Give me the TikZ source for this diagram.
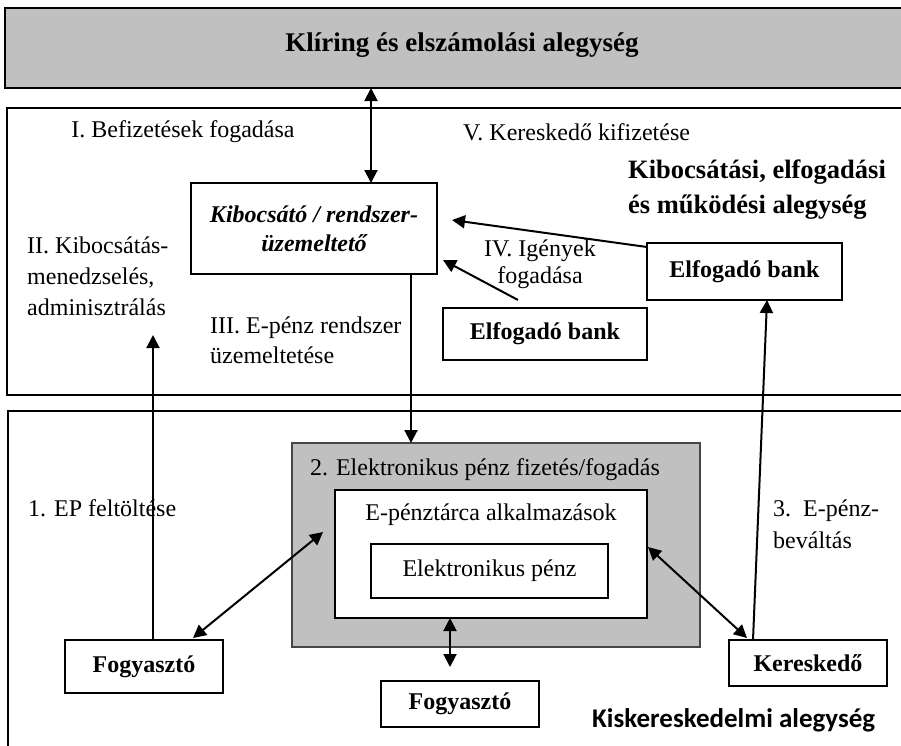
\documentclass[tikz,border=0pt]{standalone}
\usepackage{fontspec}
\setmainfont{Liberation Serif}
\newfontfamily\carl{Carlito}
\usetikzlibrary{arrows.meta,calc}
\definecolor{boxgray}{RGB}{192,192,192}
\definecolor{edgegray}{RGB}{70,70,70}
\begin{document}
\begin{tikzpicture}[x=1pt,y=-1pt,
  box/.style={draw, line width=1.6pt, inner sep=0pt, outer sep=0pt, anchor=north west, align=center},
  txt/.style={inner sep=0pt, font=\fontsize{24}{30}\selectfont},
  arr/.style={line width=2pt, -{Triangle[length=13pt,width=13pt]}},
  darr/.style={line width=2pt, {Triangle[length=13pt,width=13pt]}-{Triangle[length=13pt,width=13pt]}},
]
\useasboundingbox (0,0) rectangle (901,745);
\clip (0,0) rectangle (901,745);

% units
\node[box, fill=boxgray, minimum width=905pt, minimum height=80pt] (clr) at (5,8) {};
\node[inner sep=0pt, font=\fontsize{27}{30}\selectfont\bfseries] (clrt) at (462,45) {Klíring és elszámolási alegység};
\node[box, minimum width=905pt, minimum height=287pt] (mid) at (7,108) {};
\node[box, minimum width=905pt, minimum height=360pt] (ret) at (8,411) {};

% middle unit content
\node[box, minimum width=246pt, minimum height=91pt, font=\fontsize{24}{29}\selectfont\bfseries\itshape] (kib) at (191,183) {Kibocsátó / rendszer-\\üzemeltető};
\node[box, minimum width=195pt, minimum height=57pt, font=\fontsize{24}{30}\selectfont\bfseries] (bank2) at (647,243) {Elfogadó bank};
\node[box, minimum width=204pt, minimum height=52pt, font=\fontsize{24}{30}\selectfont\bfseries] (bank1) at (443,308) {Elfogadó bank};

\node[txt] (t1) at (183,132) {I. Befizetések fogadása};
\node[txt, anchor=west] (t5) at (463,132) {V. Kereskedő kifizetése};
\node[inner sep=0pt, anchor=west, align=left, font=\fontsize{26.5}{35}\selectfont\bfseries] (unit1) at (628,190) {Kibocsátási, elfogadási\\és működési alegység};
\node[txt, anchor=west, align=left, font=\fontsize{24}{31}\selectfont] (t2) at (27,276) {II. Kibocsátás-\\menedzselés,\\adminisztrálás};
\node[txt, anchor=west, align=left, font=\fontsize{24}{30}\selectfont] (t3) at (210,340) {III. E-pénz rendszer\\üzemeltetése};
\node[txt, align=center, font=\fontsize{24}{27}\selectfont] (t4) at (540,264) {IV. Igények\\fogadása};

% retail unit content
\node[box, fill=boxgray, draw=edgegray, minimum width=408pt, minimum height=204pt] (gray) at (292,443) {};
\node[txt] (grayt) at (485,470) {2. Elektronikus pénz fizetés/fogadás};
\node[box, fill=white, minimum width=312pt, minimum height=128pt] (wal) at (335,490) {};
\node[txt] (walt) at (491,515) {E-pénztárca alkalmazások};
\node[box, fill=white, minimum width=237pt, minimum height=54pt, font=\fontsize{24}{30}\selectfont] (ep) at (371,544) {Elektronikus pénz};

\node[box, minimum width=158pt, minimum height=53pt, font=\fontsize{24}{30}\selectfont\bfseries] (fogy1) at (65,640) {Fogyasztó};
\node[box, minimum width=158pt, minimum height=46pt, font=\fontsize{24}{30}\selectfont\bfseries] (fogy2) at (381,681) {Fogyasztó};
\node[box, minimum width=158pt, minimum height=46pt, font=\fontsize{24}{30}\selectfont\bfseries] (ker) at (729,640) {Kereskedő};

\node[txt, anchor=west] (s1) at (28,508) {1. EP feltöltése};
\node[txt, anchor=west, align=left, font=\fontsize{24}{32}\selectfont] (s3) at (773,524) {3.\ \ E-pénz-\\beváltás};
\node[inner sep=0pt, anchor=west, font=\fontsize{27}{30}\carl\bfseries] (unit2) at (592,720) {Kiskereskedelmi alegység};

% connectors
\coordinate (x371) at (371,0);
\coordinate (x411) at (411,0);
\coordinate (x153) at (153,0);
\coordinate (x450) at (450,0);
\coordinate (up1) at (153,335);
\coordinate (tipb2) at (452,220);
\coordinate (tipb1) at (443,260);
\coordinate (tipf1) at (323,532);
\coordinate (tipf2) at (450,667);

\draw[darr] (clr.south -| x371) -- (kib.north -| x371);
\draw[arr] (kib.south -| x411) -- (gray.north -| x411);
\draw[arr] (fogy1.north -| x153) -- (up1);
\draw[arr] ($(bank2.north west)+(0,4)$) -- (tipb2);
\draw[arr] ($(bank1.north)+(-27,-8)$) -- (tipb1);
\draw[arr] ($(ker.north west)+(24,0)$) -- ($(bank2.south west)+(120,0)$);
\draw[darr] ($(fogy1.north east)+(-30,-2)$) -- (tipf1);
\draw[darr] (wal.south -| x450) -- (tipf2);
\draw[darr] ($(ker.north west)+(18,-2)$) -- ($(wal.east)+(1,-7)$);
\end{tikzpicture}
\end{document}
